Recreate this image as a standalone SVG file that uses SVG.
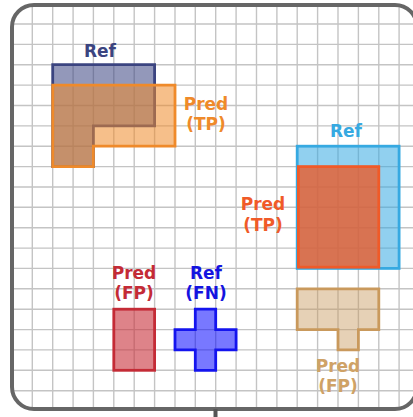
<svg xmlns="http://www.w3.org/2000/svg" width="413" height="417" viewBox="0 0 413 417">
  <defs>
    <clipPath id="frameClip">
      <rect x="12" y="5" width="405" height="404" rx="22" ry="22"/>
    </clipPath>
    <style>
      .grid { stroke: #c4c4c4; stroke-width: 1.4; fill: none; }
      .lbl { font-family: "DejaVu Sans", "Liberation Sans", sans-serif; font-weight: bold; font-size: 17px; text-anchor: middle; }
      .shape { stroke-width: 2.8; stroke-linejoin: miter; }
    </style>
  </defs>
  <rect x="0" y="0" width="413" height="417" fill="#ffffff"/>
  <g id="grid" clip-path="url(#frameClip)">
    <path class="grid" d="M32.3,0V417 M52.7,0V417 M73.1,0V417 M93.4,0V417 M113.8,0V417 M134.2,0V417 M154.6,0V417 M175,0V417 M195.3,0V417 M215.7,0V417 M236.1,0V417 M256.5,0V417 M276.9,0V417 M297.2,0V417 M317.6,0V417 M338,0V417 M358.4,0V417 M378.8,0V417 M399.1,0V417
      M0,24H413 M0,44.4H413 M0,64.7H413 M0,85.1H413 M0,105.5H413 M0,125.9H413 M0,146.2H413 M0,166.6H413 M0,187H413 M0,207.3H413 M0,227.7H413 M0,248.1H413 M0,268.4H413 M0,288.8H413 M0,309.2H413 M0,329.6H413 M0,349.9H413 M0,370.3H413 M0,390.7H413"/>
  </g>
  <g id="frame">
    <rect x="12" y="5" width="405" height="404" rx="22" ry="22" fill="none" stroke="#666666" stroke-width="4"/>
    <rect x="213.5" y="409" width="4" height="8" fill="#555555"/>
  </g>
  <g id="connectors"/>
  <g id="ref-tp1">
    <path class="shape" d="M52.7,64.7H154.6V125.9H93.4V166.6H52.7Z" fill="#3b4482" fill-opacity="0.55" stroke="#3b4480"/>
    <text class="lbl" x="100" y="57" fill="#3b4480">Ref</text>
  </g>
  <g id="pred-tp1">
    <path class="shape" d="M52.7,85.1H175V146.2H93.4V166.6H52.7Z" fill="#ef8a2a" fill-opacity="0.55" stroke="#ef8a2a"/>
    <text class="lbl" x="206" y="109.5" fill="#ef8a2a">Pred</text>
    <text class="lbl" x="206" y="130" fill="#ef8a2a">(TP)</text>
  </g>
  <g id="ref-tp2">
    <rect class="shape" x="297.2" y="146.2" width="101.9" height="122.2" fill="#36a9e1" fill-opacity="0.55" stroke="#36a9e1"/>
    <text class="lbl" x="346" y="137" fill="#36a9e1">Ref</text>
  </g>
  <g id="pred-tp2">
    <rect class="shape" x="298.4" y="166.6" width="80.4" height="100.6" fill="#ea5b2b" fill-opacity="0.8" stroke="#f05a28"/>
    <text class="lbl" x="263" y="210" fill="#f05a28">Pred</text>
    <text class="lbl" x="263" y="230.5" fill="#f05a28">(TP)</text>
  </g>
  <g id="pred-fp1">
    <rect class="shape" x="113.8" y="309.2" width="40.8" height="61.1" fill="#c8303a" fill-opacity="0.6" stroke="#c42b36"/>
    <text class="lbl" x="134" y="278.5" fill="#c42b36">Pred</text>
    <text class="lbl" x="134" y="299" fill="#c42b36">(FP)</text>
  </g>
  <g id="ref-fn">
    <path class="shape" d="M195.3,309.2H215.7V329.6H236.1V349.9H215.7V370.3H195.3V349.9H175V329.6H195.3Z" fill="#0000ff" fill-opacity="0.53" stroke="#1414ee"/>
    <text class="lbl" x="206" y="278.5" fill="#1414e0">Ref</text>
    <text class="lbl" x="206" y="299" fill="#1414e0">(FN)</text>
  </g>
  <g id="pred-fp2">
    <path class="shape" d="M297.2,288.8H378.8V329.6H358.4V349.9H338V329.6H297.2Z" fill="#c89a5e" fill-opacity="0.45" stroke="#c9995c"/>
    <text class="lbl" x="338" y="371.5" fill="#cfa266">Pred</text>
    <text class="lbl" x="338" y="392" fill="#cfa266">(FP)</text>
  </g>
</svg>
